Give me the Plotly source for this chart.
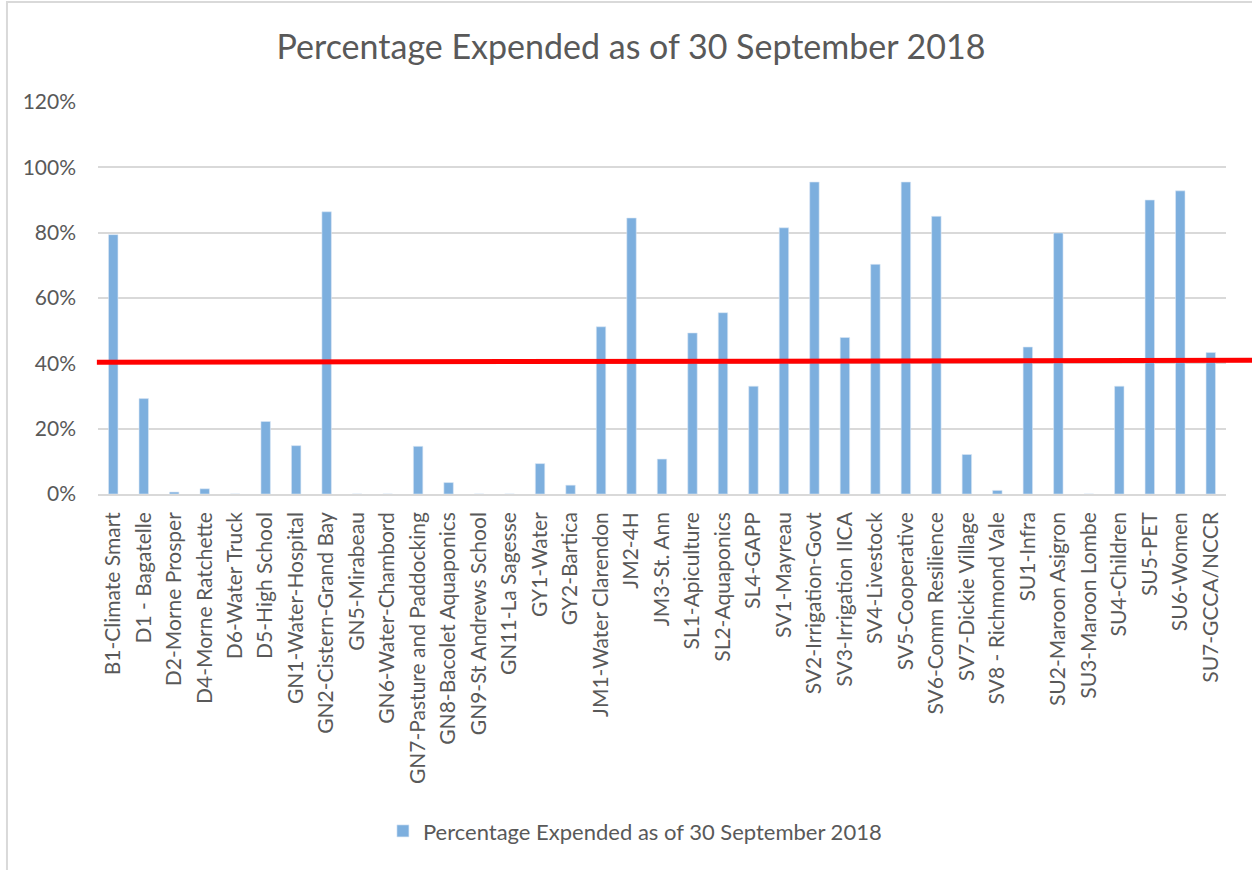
import plotly.graph_objects as go

categories = [
    "B1-Climate Smart", "D1 - Bagatelle", "D2-Morne Prosper", "D4-Morne Ratchette",
    "D6-Water Truck", "D5-High School", "GN1-Water-Hospital", "GN2-Cistern-Grand Bay",
    "GN5-Mirabeau", "GN6-Water-Chambord", "GN7-Pasture and Paddocking",
    "GN8-Bacolet Aquaponics", "GN9-St Andrews School", "GN11-La Sagesse",
    "GY1-Water", "GY2-Bartica", "JM1-Water Clarendon", "JM2-4H", "JM3-St. Ann",
    "SL1-Apiculture", "SL2-Aquaponics", "SL4-GAPP", "SV1-Mayreau",
    "SV2-Irrigation-Govt", "SV3-Irrigation IICA", "SV4-Livestock", "SV5-Cooperative",
    "SV6-Comm Resilience", "SV7-Dickie Village", "SV8 - Richmond Vale", "SU1-Infra",
    "SU2-Maroon Asigron", "SU3-Maroon Lombe", "SU4-Children", "SU5-PET",
    "SU6-Women", "SU7-GCCA/NCCR",
]

percent_expended = [
    79.4, 29.2, 0.6, 1.6, 0.0, 22.2, 14.8, 86.4, 0.0, 0.0, 14.6, 3.5, 0.0, 0.0,
    9.3, 2.7, 51.2, 84.5, 10.7, 49.3, 55.5, 33.0, 81.5, 95.5, 47.9, 70.3, 95.5,
    85.0, 12.1, 1.1, 45.0, 79.9, 0.0, 33.0, 90.0, 92.8, 43.3,
]

series_name = "Percentage Expended as of 30 September 2018"
title_text = "Percentage Expended as of 30 September 2018"
y_ticks = [0, 20, 40, 60, 80, 100, 120]
y_ticklabels = ["0%", "20%", "40%", "60%", "80%", "100%", "120%"]

# Threshold line (hand-drawn in the original, slightly tilted)
threshold_start = 40.3
threshold_end = 40.95

FONT = "Lato, 'Open Sans', sans-serif"
GREY = "#595959"

fig = go.Figure()
fig.add_trace(go.Bar(
    x=categories,
    y=percent_expended,
    name=series_name,
    marker=dict(color="#7DAFDE", line=dict(color="#DCE8F5", width=0.6)),
    showlegend=True,
))

fig.add_shape(
    type="line", xref="paper", yref="y",
    x0=-0.001, x1=1.03, y0=threshold_start, y1=threshold_end,
    line=dict(color="#FF0000", width=5),
    layer="above",
)

# chart-area border
fig.add_shape(
    type="rect", xref="paper", yref="paper",
    x0=-0.0807, x1=1.2, y0=-2.0, y1=1.2551,
    line=dict(color="#D9D9D9", width=2),
    fillcolor="rgba(0,0,0,0)", layer="below",
)

fig.update_layout(
    width=1252, height=870,
    paper_bgcolor="white", plot_bgcolor="white",
    margin=dict(l=98, r=26, t=102, b=376),
    title=dict(
        text=title_text, x=0.504, xanchor="center", y=0.946, yanchor="middle",
        font=dict(family=FONT, size=34, color=GREY),
    ),
    font=dict(family=FONT, size=20, color=GREY),
    bargap=0.69,
    legend=dict(
        orientation="h", x=0.476, xanchor="center", y=-0.86, yanchor="middle",
        font=dict(family=FONT, size=22, color=GREY),
        itemwidth=30,
    ),
    xaxis=dict(
        tickangle=-90, showgrid=False, showline=True, linecolor="#D9D9D9",
        linewidth=1.5, ticks="", tickfont=dict(family=FONT, size=21, color=GREY),
        ticklabelstandoff=8,
    ),
    yaxis=dict(
        range=[0, 120], tickvals=y_ticks, ticktext=y_ticklabels,
        showgrid=True, gridcolor="#D9D9D9", gridwidth=1.5, zeroline=False,
        showline=False, ticks="", tickfont=dict(family=FONT, size=21, color=GREY),
        ticklabelstandoff=21,
    ),
)

fig.write_html(
    "out.html",
    config={"displayModeBar": False},
    post_script="document.body.style.margin='0px';",
)
